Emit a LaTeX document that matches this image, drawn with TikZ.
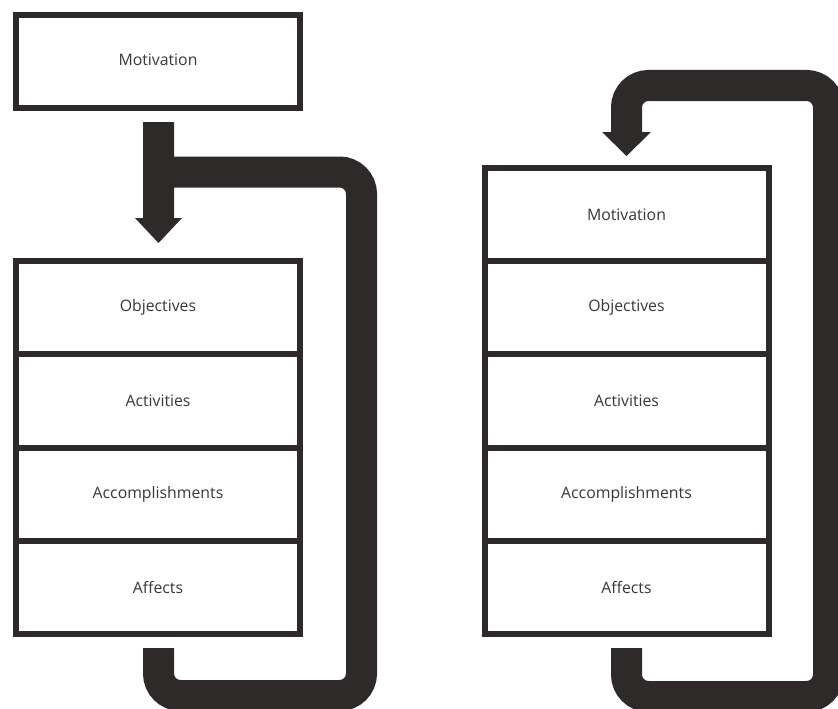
\documentclass[tikz,border=0pt]{standalone}
\usepackage{fontspec}
\setmainfont{Open Sans}
\usetikzlibrary{calc}
\definecolor{ink}{RGB}{46,42,42}
\definecolor{txt}{RGB}{58,55,55}
\tikzset{
  cell/.style={draw=ink, line width=6pt, fill=white, rectangle, minimum width=284pt,
    minimum height=#1, inner sep=0pt, font=\fontsize{15.8}{18}\selectfont, text=txt},
  cell/.default=93.25pt,
  band/.style={draw=ink, line width=31pt, line cap=butt, line join=miter, rounded corners=22pt},
  head/.style={fill=ink, draw=none}
}
\begin{document}
\begin{tikzpicture}[x=1pt,y=-1pt]
\useasboundingbox (0,0) rectangle (838,709);
% left column
\node[cell=93pt] (lmot) at (158,61.5) {\raisebox{3.5pt}{Motivation}};
\node[cell] (lobj) at (158,307.625) {Objectives};
\node[cell] (lact) at (158,400.875) {Activities};
\node[cell] (lacc) at (158,494.125) {Accomplishments};
\node[cell] (laff) at (158,587.375) {Affects};
% right column
\node[cell=93.2pt] (rmot) at (626.5,214.6) {Motivation};
\node[cell=93.2pt] (robj) at (626.5,307.8) {Objectives};
\node[cell=93.2pt] (ract) at (626.5,401) {Activities};
\node[cell=93.2pt] (racc) at (626.5,494.2) {Accomplishments};
\node[cell=93.2pt] (raff) at (626.5,587.4) {Affects};
% left arrows
\coordinate (lstart) at (158.5,648);
\coordinate (ljoin) at (168,172);
\draw[band] (lstart) -- (158.5,695.5) -- (361.5,695.5) -- (361.5,172) -- (ljoin);
\fill[head] (143,122) -- (174,122) -- (174,218) -- (182,218) -- (158.5,243) -- (135,218) -- (143,218) -- cycle;
% right arrows
\coordinate (rstart) at (626.5,648);
\coordinate (rend) at (626.5,134);
\draw[band] (rstart) -- (626.5,696.5) -- (828.5,696.5) -- (828.5,85.5) -- (626.5,85.5) -- (rend);
\fill[head] (602,132) -- (651,132) -- (626.5,156) -- cycle;
\end{tikzpicture}
\end{document}
